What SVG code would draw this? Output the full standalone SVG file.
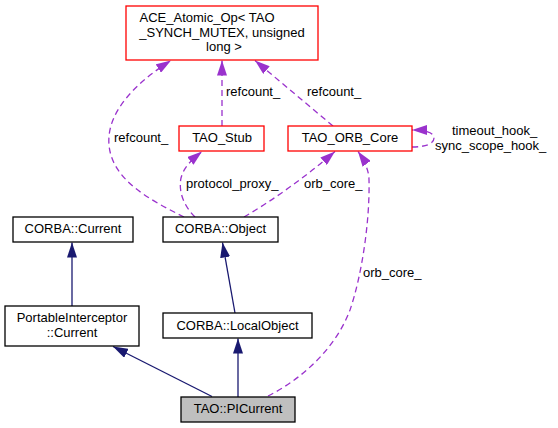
<svg xmlns="http://www.w3.org/2000/svg" width="558" height="428" viewBox="0 0 558 428">
<defs>
<style>
text{font-family:"Liberation Sans",Arial,Helvetica,sans-serif;font-size:13px;fill:#000}
.c{text-anchor:middle}
.node rect{fill:#fff;stroke:#000;stroke-width:1.3}
.node.red rect{stroke:#ff0000}
.node.cur rect{fill:#bfbfbf}
.inh{fill:none;stroke:#191970;stroke-width:1.3;marker-end:url(#ab)}
.use{fill:none;stroke:#9a32cd;stroke-width:1.3;stroke-dasharray:6,4;marker-end:url(#ap)}
</style>
<marker id="ab" markerUnits="userSpaceOnUse" viewBox="0 0 15 10" markerWidth="15" markerHeight="10" refX="15" refY="5" orient="auto"><path d="M0,0 L15,5 L0,10 z" fill="#191970"/></marker>
<marker id="ap" markerUnits="userSpaceOnUse" viewBox="0 0 15 10" markerWidth="15" markerHeight="10" refX="15" refY="5" orient="auto"><path d="M0,0 L15,5 L0,10 z" fill="#9a32cd"/></marker>
</defs>
<rect width="558" height="428" fill="#fff"/>
<g id="edges">
<path class="inh" d="M72,306 L72,242.5"/>
<path class="inh" d="M235,313 L222.5,242.5"/>
<path class="inh" d="M238,397 L238,338.5"/>
<path class="inh" d="M212,396.5 L113,346.5"/>
<path class="use" d="M222,126 L222,60.5"/>
<path class="use" d="M333,126 L255,60.5"/>
<path class="use" d="M184,217 C150,200 112,180 109,145 C106,110 140,80 171,60.5"/>
<path class="use" d="M195,217 C185,207 178,193 181,178 C184,166 194,158 202,151.5"/>
<path class="use" d="M244,217 Q290,190 335,151.5"/>
<path class="use" d="M268,396 C300,380 335,350 350,310 C362,275 370,220 369,180 C369,170 364,160 358,151.5"/>
<path class="use" d="M412,147 C425,147 434,144 434,138 C434,132 424,130 412,130"/>
<text x="226" y="96">refcount_</text>
<text x="307" y="96">refcount_</text>
<text x="114" y="142">refcount_</text>
<text x="452" y="135">timeout_hook_</text>
<text x="435" y="150">sync_scope_hook_</text>
<text x="186" y="188">protocol_proxy_</text>
<text x="304" y="188">orb_core_</text>
<text x="363" y="277">orb_core_</text>
</g>
<g id="ace" class="node red">
<rect x="126" y="6" width="192" height="54"/>
<text class="c" x="207" y="22">ACE_Atomic_Op&lt; TAO</text>
<text class="c" x="222" y="37">_SYNCH_MUTEX, unsigned</text>
<text class="c" x="224" y="51">long &gt;</text>
</g>
<g id="tao_stub" class="node red">
<rect x="179" y="126" width="85" height="25"/>
<text class="c" x="222" y="142">TAO_Stub</text>
</g>
<g id="tao_orb_core" class="node red">
<rect x="288" y="126" width="124" height="25"/>
<text class="c" x="350" y="142">TAO_ORB_Core</text>
</g>
<g id="corba_current" class="node">
<rect x="13" y="217" width="120" height="25"/>
<text class="c" x="73" y="233">CORBA::Current</text>
</g>
<g id="corba_object" class="node">
<rect x="163" y="217" width="115" height="25"/>
<text class="c" x="220.5" y="233">CORBA::Object</text>
</g>
<g id="pi_current" class="node">
<rect x="5" y="306" width="134" height="40"/>
<text class="c" x="72" y="322">PortableInterceptor</text>
<text class="c" x="72" y="337">::Current</text>
</g>
<g id="corba_localobject" class="node">
<rect x="163" y="313" width="149" height="25"/>
<text class="c" x="237.5" y="330">CORBA::LocalObject</text>
</g>
<g id="tao_picurrent" class="node cur">
<rect x="181" y="397" width="114" height="25"/>
<text class="c" x="238" y="413">TAO::PICurrent</text>
</g>
</svg>
